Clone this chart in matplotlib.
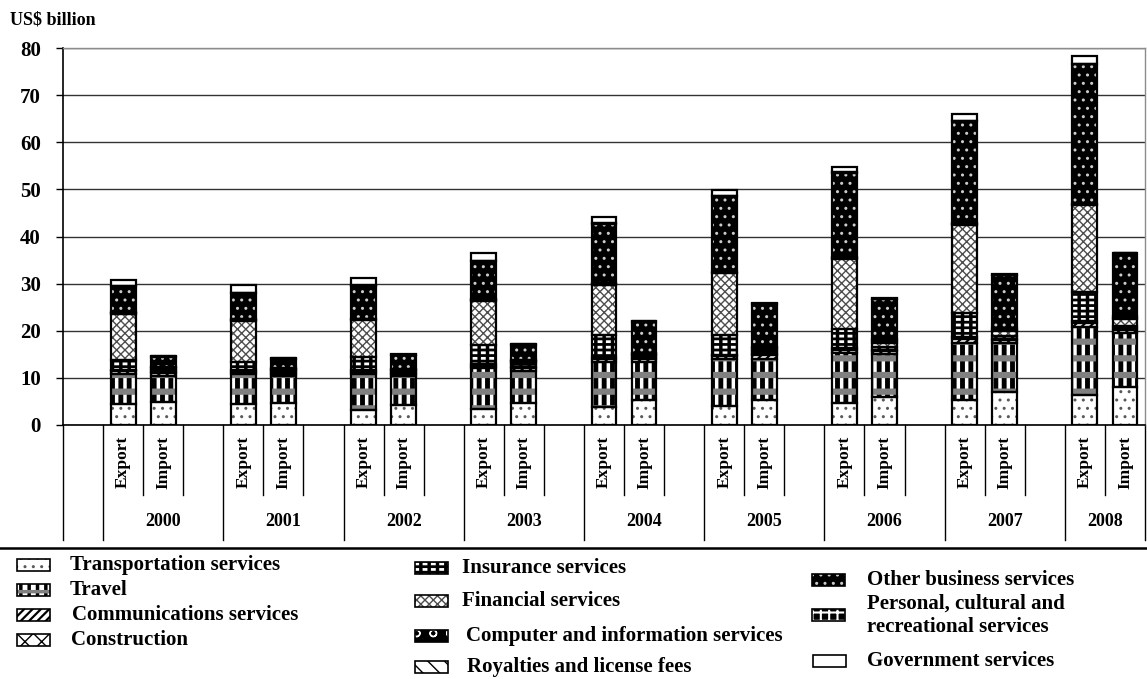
import matplotlib
matplotlib.use("Agg")
import matplotlib.pyplot as plt
import numpy as np
from matplotlib.patches import Rectangle
from matplotlib.lines import Line2D

# Services trade, US$ billion, bars ordered Export/Import for each year
years = ["2000", "2001", "2002", "2003", "2004", "2005", "2006", "2007", "2008"]
flows = ["Export", "Import"]

transport      = [4.4, 4.9, 4.4, 4.7, 3.2, 4.2, 3.5, 4.6, 3.9, 5.3, 4.0, 5.4, 4.6, 6.0, 5.4, 7.1, 6.4, 8.1]
travel         = [6.4, 5.5, 6.4, 5.7, 7.6, 6.1, 8.5, 6.9, 9.5, 8.1, 9.9, 8.7, 10.6, 9.1, 12.1, 10.2, 14.3, 11.4]
communications = [0.6, 0.6, 0.5, 0.5, 0.5, 0.5, 0.6, 0.7, 0.7, 0.6, 0.7, 0.7, 0.7, 0.7, 0.8, 0.7, 0.9, 0.7]
construction   = [0.3, 0.2, 0.3, 0.2, 0.3, 0.2, 0.3, 0.2, 0.3, 0.2, 0.3, 0.2, 0.4, 0.2, 0.4, 0.3, 0.5, 0.3]
insurance      = [2.1, 0.5, 1.7, 0.4, 2.8, 0.4, 4.1, 0.5, 4.6, 0.4, 4.1, 0.5, 4.0, 0.6, 5.0, 0.5, 6.1, 0.5]
financial      = [9.8, 0.3, 8.8, 0.2, 7.8, 0.2, 9.4, 0.4, 10.8, 0.3, 13.2, 0.5, 15.0, 0.9, 18.8, 1.2, 18.5, 1.5]
computer       = [0.2, 0.2, 0.2, 0.1, 0.2, 0.1, 0.2, 0.2, 0.2, 0.2, 0.2, 0.3, 0.2, 0.3, 0.2, 0.2, 0.2, 0.3]
royalties      = [0.1, 0.2, 0.1, 0.2, 0.1, 0.2, 0.1, 0.3, 0.1, 0.2, 0.1, 0.3, 0.1, 0.4, 0.1, 0.3, 0.1, 0.3]
other_business = [5.5, 2.1, 5.6, 2.1, 7.1, 2.9, 8.0, 3.2, 12.6, 6.6, 16.1, 9.0, 17.9, 8.5, 21.7, 11.3, 29.5, 13.3]
personal       = [0.1, 0.1, 0.1, 0.1, 0.1, 0.1, 0.1, 0.1, 0.1, 0.1, 0.1, 0.1, 0.1, 0.1, 0.1, 0.1, 0.1, 0.1]
government     = [1.2, 0.1, 1.6, 0.1, 1.4, 0.1, 1.6, 0.1, 1.3, 0.1, 1.2, 0.1, 1.2, 0.1, 1.4, 0.1, 1.8, 0.1]

yticks = [0, 10, 20, 30, 40, 50, 60, 70, 80]

# (label, values, face colour, hatch layers [(hatch, colour, linewidth)])
series = [
    ("Transportation services", transport, "white", [("..", "0.35", 1.0)]),
    ("Travel", travel, "white", [("||", "black", 3.5), ("-", "0.5", 4.5)]),
    ("Communications services", communications, "white", [("////", "black", 1.6)]),
    ("Construction", construction, "white", [("xx", "black", 1.0)]),
    ("Insurance services", insurance, "black", [("---", "white", 2.0), ("||", "black", 2.5)]),
    ("Financial services", financial, "white", [("xxxx", "0.3", 1.0)]),
    ("Computer and information services", computer, "black", [("o", "white", 1.0)]),
    ("Royalties and license fees", royalties, "white", [("\\\\", "black", 1.0)]),
    ("Other business services", other_business, "black", [("..", "0.8", 1.0)]),
    ("Personal, cultural and\nrecreational services", personal, "black", [("++", "white", 1.5)]),
    ("Government services", government, "white", []),
]

W, H = 1147, 679
plt.rcParams["font.family"] = ["Liberation Serif", "DejaVu Serif"]
plt.rcParams["font.weight"] = "bold"

fig = plt.figure(figsize=(W / 100, H / 100), dpi=100)


def fx(px):
    return px / W


def fy(py):
    return 1 - py / H


ax_left, ax_right, ax_top, ax_bottom = 63, 1145, 48, 425
ax = fig.add_axes([fx(ax_left), fy(ax_bottom), fx(ax_right - ax_left), fy(ax_top) - fy(ax_bottom)])

n_years = len(years)
n_slots = 1 + 3 * (n_years - 1) + 2
slot_of_bar = []
for k in range(n_years):
    slot_of_bar += [1 + 3 * k, 2 + 3 * k]
xpos = np.array(slot_of_bar) + 0.5
bar_w = 0.62


def hatched_bar(axis, x, h, b, face, layers):
    axis.bar(x, h, bar_w, bottom=b, color=face, linewidth=0, zorder=3)
    for hatch, hcol, hlw in layers:
        with plt.rc_context({"hatch.linewidth": hlw}):
            axis.bar(x, h, bar_w, bottom=b, facecolor="none", edgecolor=hcol,
                     hatch=hatch, linewidth=0, zorder=3)
    axis.bar(x, h, bar_w, bottom=b, facecolor="none", edgecolor="black",
             linewidth=1.6, zorder=4)


bottom = np.zeros(len(xpos))
for label, vals, face, layers in series:
    vals = np.array(vals, dtype=float)
    hatched_bar(ax, xpos, vals, bottom, face, layers)
    bottom += vals

ax.set_xlim(0, n_slots)
ax.set_ylim(0, 80)
ax.set_yticks(yticks)
ax.set_yticklabels([str(t) for t in yticks], fontsize=15, fontweight="bold")
ax.tick_params(axis="y", length=5, width=1, pad=11, direction="out")
ax.set_xticks([])
ax.yaxis.grid(True, color="0.2", linewidth=1.0, zorder=0)
ax.set_axisbelow(True)
for side in ("top", "right"):
    ax.spines[side].set_color("0.55")
    ax.spines[side].set_linewidth(1.0)
ax.spines["left"].set_linewidth(1.2)
ax.spines["bottom"].set_linewidth(1.2)

# category axis: separators, flow labels and year labels
ax_h = ax_bottom - ax_top
long_y = -(540 - ax_bottom) / ax_h
short_y = -(495 - ax_bottom) / ax_h
tr = ax.get_xaxis_transform()
long_lines = [0] + [1 + 3 * k for k in range(n_years)] + [n_slots]
short_lines = [s for k in range(n_years) for s in (2 + 3 * k, 3 + 3 * k) if s < n_slots]
for s in long_lines:
    ax.add_line(Line2D([s, s], [0, long_y], transform=tr, color="black", lw=1.0, clip_on=False))
for s in short_lines:
    ax.add_line(Line2D([s, s], [0, short_y], transform=tr, color="black", lw=1.0, clip_on=False))
flow_y = -(462 - ax_bottom) / ax_h
for i, x in enumerate(xpos):
    ax.text(x, flow_y, flows[i % 2], transform=tr, rotation=90, ha="center", va="center",
            fontsize=12.5, fontweight="bold")
year_y = -(521 - ax_bottom) / ax_h
for k, yr in enumerate(years):
    first = 1 + 3 * k
    last = min(first + 3, n_slots)
    ax.text((first + last) / 2, year_y, yr, transform=tr, ha="center", va="center",
            fontsize=13, fontweight="bold")

fig.text(fx(10), fy(20), "US$ billion", ha="left", va="center", fontsize=13, fontweight="bold")

# separator above legend
fig.add_artist(Line2D([0, 1], [fy(548), fy(548)], transform=fig.transFigure, color="black", lw=1.8))

# legend (three columns)
legend_slots = [
    (17, 70, 565), (17, 70, 590), (17, 72, 615), (17, 71, 640),
    (415, 462, 568), (415, 462, 601), (415, 466, 636), (415, 467, 667),
    (812, 867, 580), (812, 867, 615), (813, 867, 661),
]
patch_w, patch_h = 33, 12
for (label, vals, face, layers), (px, tx, ty) in zip(series, legend_slots):
    rect_xy = (fx(px), fy(ty + patch_h / 2))
    pw, ph = patch_w / W, patch_h / H
    fig.add_artist(Rectangle(rect_xy, pw, ph, transform=fig.transFigure,
                             facecolor=face, linewidth=0))
    for hatch, hcol, hlw in layers:
        with plt.rc_context({"hatch.linewidth": min(hlw, 2.5)}):
            fig.add_artist(Rectangle(rect_xy, pw, ph, transform=fig.transFigure,
                                     facecolor="none", edgecolor=hcol, hatch=hatch, linewidth=0))
    fig.add_artist(Rectangle(rect_xy, pw, ph, transform=fig.transFigure,
                             facecolor="none", edgecolor="black", linewidth=1.2))
    fig.text(fx(tx), fy(ty), label, ha="left", va="center", fontsize=15,
             fontweight="bold", linespacing=1.22)

fig.savefig("out.png", dpi=100)
